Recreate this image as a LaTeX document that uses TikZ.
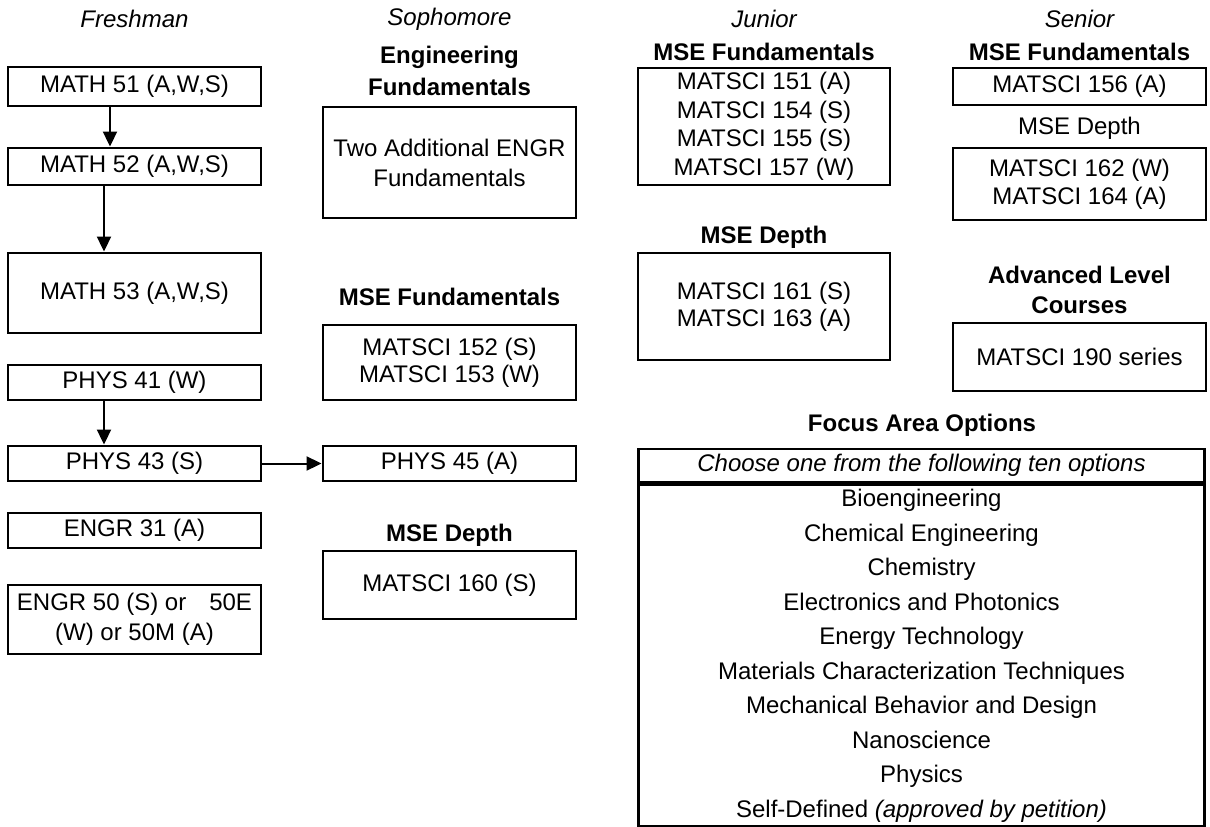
\documentclass[tikz,border=0pt]{standalone}
\usepackage{fontspec}
\setmainfont{Liberation Sans}
\usetikzlibrary{arrows.meta}
% 24pt text with a chosen line pitch
\newcommand{\szline}[1]{\fontsize{24}{#1}\selectfont}

\begin{document}
\begin{tikzpicture}[x=1pt,y=-1pt,
  course/.style={draw, line width=2.9pt, inner sep=0pt, align=center,
                 minimum width=253pt, font=\szline{28.5}},
  head/.style={align=center, inner sep=0pt, font=\szline{30}\bfseries},
  plainhead/.style={align=center, inner sep=0pt, font=\szline{30}},
  year/.style={inner sep=0pt, font=\szline{28}\itshape},
  flow/.style={line width=2pt, -{Triangle[length=15pt,width=14pt]}}]
\useasboundingbox (0,0) rectangle (1210,827);

% ---- year captions ----
\node[year] (yfr) at (134.5,19) {Freshman};
\node[year] (yso) at (449.5,19) {Sophomore};
\node[year] (yju) at (764,19) {Junior};
\node[year] (yse) at (1079.5,19) {Senior};

% ---- Freshman ----
\node[course, minimum height=39pt] (m51) at (134.5,86.5) {MATH 51 (A,W,S)};
\node[course, minimum height=37pt] (m52) at (134.5,166.5) {MATH 52 (A,W,S)};
\node[course, minimum height=80pt] (m53) at (134.5,293) {MATH 53 (A,W,S)};
\node[course, minimum height=35pt] (p41) at (134.5,382.5) {PHYS 41 (W)};
\node[course, minimum height=35pt] (p43) at (134.5,463.5) {PHYS 43 (S)};
\node[course, minimum height=35pt] (e31) at (134.5,530.5) {ENGR 31 (A)};
\node[course, minimum height=69pt, font=\szline{30}] (e50) at (134.5,619.5)
  {ENGR 50 (S) or\hspace{23pt}50E\\(W) or 50M (A)};

% ---- Sophomore ----
\node[head] (hef) at (449.5,71) {Engineering\\[2pt]Fundamentals};
\node[course, minimum height=111pt, font=\szline{30}] (eng) at (449.5,162.5)
  {Two Additional ENGR\\Fundamentals};
\node[head] (hsf) at (449.5,297) {MSE Fundamentals};
\node[course, minimum height=75pt, font=\szline{27}] (m152) at (449.5,362.5)
  {MATSCI 152 (S)\\MATSCI 153 (W)};
\node[course, minimum height=35pt] (p45) at (449.5,463.5) {PHYS 45 (A)};
\node[head] (hsd) at (449.5,535) {MSE Depth};
\node[course, minimum height=68pt] (m160) at (449.5,585) {MATSCI 160 (S)};

% ---- Junior ----
\node[head] (hjf) at (764,52) {MSE Fundamentals};
\node[course, minimum width=252pt, minimum height=117pt] (m151) at (764,126.5)
  {MATSCI 151 (A)\\MATSCI 154 (S)\\MATSCI 155 (S)\\MATSCI 157 (W)};
\node[head] (hjd) at (764,237) {MSE Depth};
\node[course, minimum width=252pt, minimum height=107pt, font=\szline{27}] (m161) at (764,306.5)
  {MATSCI 161 (S)\\MATSCI 163 (A)};

% ---- Senior ----
\node[head] (hnf) at (1079.5,52) {MSE Fundamentals};
\node[course, minimum height=37pt] (m156) at (1079.5,86.5) {MATSCI 156 (A)};
\node[plainhead] (hnd) at (1079.5,128) {MSE Depth};
\node[course, minimum height=72pt, font=\szline{28}] (m162) at (1079.5,184)
  {MATSCI 162 (W)\\MATSCI 164 (A)};
\node[head] (hadv) at (1079.5,290) {Advanced Level\\Courses};
\node[course, minimum height=68pt] (m190) at (1079.5,357) {MATSCI 190 series};

% ---- Focus areas ----
\node[head] (hfa) at (922,425) {Focus Area Options};
\node[course, minimum width=566pt, minimum height=33pt, font=\szline{28}\itshape] (choose) at (921.5,465.5)
  {Choose one from the following ten options};
\node[course, minimum width=566pt, minimum height=342pt, font=\szline{34.5}, anchor=north] (opts)
  at (choose.south)
  {Bioengineering\\Chemical Engineering\\Chemistry\\Electronics and Photonics\\
   Energy Technology\\Materials Characterization Techniques\\
   Mechanical Behavior and Design\\Nanoscience\\Physics\\
   Self-Defined \textit{(approved by petition)}};

% ---- prerequisite arrows ----
\draw[flow] ([xshift=-24.5pt]m51.south) -- ([xshift=-24.5pt]m52.north);
\draw[flow] ([xshift=-30.5pt]m52.south) -- ([xshift=-30.5pt]m53.north);
\draw[flow] ([xshift=-30.5pt]p41.south) -- ([xshift=-30.5pt]p43.north);
\draw[flow] (p43.east) -- (p45.west);
\end{tikzpicture}
\end{document}
